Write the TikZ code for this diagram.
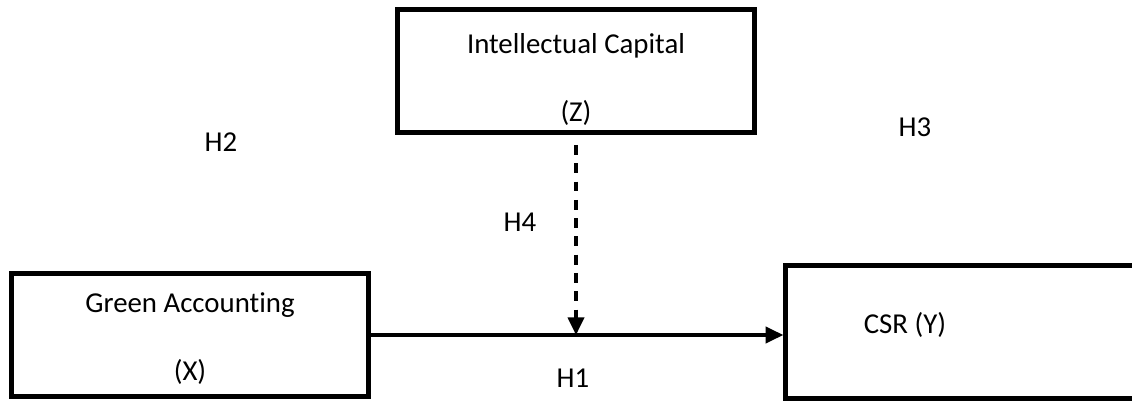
\documentclass[tikz,border=0pt]{standalone}
\usepackage{fontspec}
\setmainfont[Ligatures=NoCommon]{Carlito}
\usetikzlibrary{positioning, arrows.meta}

\begin{document}
\begin{tikzpicture}[x=0.025cm, y=-0.025cm,
    every node/.style={font=\fontsize{20.5}{24}\selectfont},
    box/.style={draw, line width=3.5pt, minimum width=8.925cm, minimum height=3.075cm, align=center, inner sep=0pt},
    link/.style={line width=2.2pt, -{Triangle[length=12.5pt, width=11.5pt]}}]
        \useasboundingbox (0,0) rectangle (1132,401);

        \node[box] (z) at (576, 71) {\rule{0pt}{26pt}Intellectual Capital\\[24pt](Z)};
        \node[box] (x) at (190, 335) {\rule{0pt}{19pt}Green Accounting\\[24pt](X)};
        \node[box, minimum width=9.11cm, minimum height=3.34cm] (y) at (968, 332) {};
        \node (ytext) at (905, 325) {CSR (Y)};

        \coordinate (m) at (z.south |- x.east);

        \node (h1) at (573, 378) {H1};
        \node (h2) at (221, 142) {H2};
        \node (h3) at (915, 127) {H3};
        \node (h4) at (520, 222) {H4};

        \draw[link] (x) -- (x -| y.west);
        \draw[link, dash pattern=on 7pt off 6pt, shorten <=0.25cm] (z.south) -- (m);
    \end{tikzpicture}
\end{document}
